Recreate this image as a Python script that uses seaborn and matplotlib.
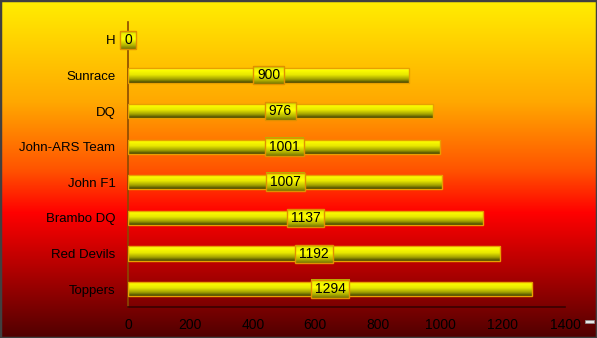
import numpy as np
import pandas as pd
import matplotlib
matplotlib.use("Agg")
import matplotlib.pyplot as plt
import seaborn as sns
from matplotlib.colors import LinearSegmentedColormap
from matplotlib.patches import Rectangle

teams = ["H", "Sunrace", "DQ", "John-ARS Team", "John F1", "Brambo DQ", "Red Devils", "Toppers"]
values = [0, 900, 976, 1001, 1007, 1137, 1192, 1294]
xticks = [0, 200, 400, 600, 800, 1000, 1200, 1400]

df = pd.DataFrame({"team": teams, "value": values})

sns.set_style("white")
plt.rcParams["font.family"] = ["Liberation Sans", "DejaVu Sans"]

fig = plt.figure(figsize=(5.97, 3.38), dpi=100)

# background gradient
bg = fig.add_axes([0, 0, 1, 1], zorder=0)
bg_cmap = LinearSegmentedColormap.from_list(
    "bg", [(0.0, "#FFEE00"), (0.30, "#FFA800"), (0.50, "#FF5500"),
           (0.63, "#FF0000"), (0.80, "#B00000"), (1.0, "#500000")])
grad = np.linspace(0, 1, 256).reshape(-1, 1)
bg.imshow(grad, aspect="auto", cmap=bg_cmap, extent=[0, 1, 1, 0])
bg.set_xlim(0, 1); bg.set_ylim(1, 0)
bg.axis("off")
fig.patches.append(Rectangle((0, 0), 1, 1, transform=fig.transFigure,
                             fill=False, edgecolor="#404040", linewidth=2.5, zorder=10))
fig.patches.append(Rectangle((0.980, 0.043), 0.015, 0.010, transform=fig.transFigure,
                             facecolor="#E8E8E8", edgecolor="#909090", linewidth=0.5, zorder=10))

ax = fig.add_axes([0.2144, 0.0917, 0.732, 0.843], zorder=1)
ax.patch.set_alpha(0)

sns.barplot(data=df, x="value", y="team", orient="h", width=0.4,
            color="#FFFF00", edgecolor="#E8A000", linewidth=1, ax=ax)

bar_cmap = LinearSegmentedColormap.from_list(
    "bar", [(0.0, "#FFFF80"), (0.12, "#FFFF00"), (0.45, "#E8E800"),
            (0.75, "#A0A000"), (1.0, "#3A3A00")])
for p in ax.patches:
    x0, y0 = p.get_x(), p.get_y()
    w, h = p.get_width(), p.get_height()
    if w <= 0:
        continue
    im = ax.imshow(grad, aspect="auto", cmap=bar_cmap,
                   extent=[x0, x0 + w, y0 + h, y0], zorder=2, interpolation="bilinear")
    im.set_clip_path(p)
    p.set_facecolor("none")
    p.set_zorder(3)

ax.set_xlim(0, 1400)
ax.set_ylim(7.5, -0.5)
ax.set_xticks(xticks)
ax.set_xticklabels([str(t) for t in xticks], fontsize=10, color="#000000")
ax.tick_params(axis="x", direction="out", length=5, width=1, color="#3A0000", pad=3)
ax.tick_params(axis="y", length=0, pad=9, labelsize=9.5, labelcolor="#000000")
ax.set_xlabel(""); ax.set_ylabel("")
for s in ["top", "right"]:
    ax.spines[s].set_visible(False)
ax.spines["left"].set_color("#8A4A00")
ax.spines["bottom"].set_color("#3A0000")
ax.spines["left"].set_linewidth(1.2)
ax.spines["bottom"].set_linewidth(1.2)
ax.grid(False)

# value labels with gradient boxes
box_cmap = LinearSegmentedColormap.from_list(
    "box", [(0.0, "#A8A800"), (0.15, "#F0F000"), (0.45, "#FFFF00"),
            (0.8, "#B0B000"), (1.0, "#707000")])
texts = []
for i, v in enumerate(values):
    t = ax.text(v / 2, i, str(v), ha="center", va="center", fontsize=10,
                color="#000000", zorder=6, clip_on=False)
    texts.append(t)
fig.canvas.draw()
r = fig.canvas.get_renderer()
inv = ax.transData.inverted()
for t in texts:
    bb = t.get_window_extent(renderer=r)
    cx = (bb.x0 + bb.x1) / 2
    cy = (bb.y0 + bb.y1) / 2
    hw = bb.width / 2 + 4
    hh = 9
    (dx0, dy0) = inv.transform((cx - hw, cy - hh))
    (dx1, dy1) = inv.transform((cx + hw, cy + hh))
    ytop, ybot = min(dy0, dy1), max(dy0, dy1)
    im = ax.imshow(grad, aspect="auto", cmap=box_cmap, extent=[dx0, dx1, ybot, ytop],
                   zorder=4.5, interpolation="bilinear")
    im.set_clip_on(False)
    ax.add_patch(Rectangle((dx0, ytop), dx1 - dx0, ybot - ytop, fill=False,
                           edgecolor="#E09000", linewidth=1, zorder=5, clip_on=False))

ax.set_xlim(0, 1400)
ax.set_ylim(7.5, -0.5)
ax.set_aspect("auto")

fig.savefig("out.png", dpi=100)
